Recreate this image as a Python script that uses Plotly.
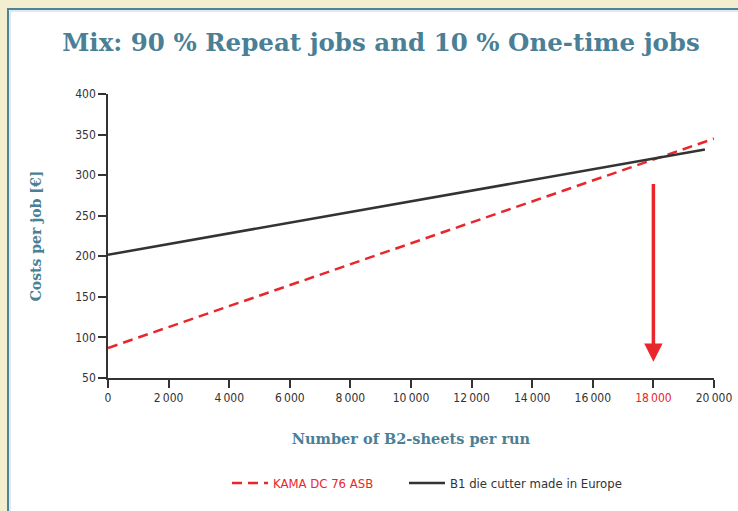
import plotly.graph_objects as go

# Data
kama_x = [0, 20000]
kama_y = [87, 345]
b1_x = [0, 19700]
b1_y = [202, 331.5]
x_ticks = [0, 2000, 4000, 6000, 8000, 10000, 12000, 14000, 16000, 18000, 20000]
x_tick_labels = ["0", "2\u2009000", "4\u2009000", "6\u2009000", "8\u2009000", "10\u2009000",
                 "12\u2009000", "14\u2009000", "16\u2009000",
                 "<span style='color:#e8262b'>18\u2009000</span>", "20\u2009000"]
y_ticks = [50, 100, 150, 200, 250, 300, 350, 400]
breakeven_x = 18000
arrow_top = 291
arrow_tip = 70

RED = "#e8262b"
DARK = "#333333"
TEAL = "#4a7f96"
COND = "DejaVu Sans Condensed, Liberation Sans Narrow, Liberation Sans, sans-serif"
SERIF = "DejaVu Serif, serif"

# plot-area geometry in pixels (for the decorative panel)
L, R, T, B = 108, 24, 94, 133
PW = 738 - L - R
PH = 511 - T - B

fig = go.Figure()
fig.add_trace(go.Scatter(x=kama_x, y=kama_y, mode="lines",
                         name="<span style='color:#e8262b'>KAMA DC 76 ASB</span>",
                         line=dict(color=RED, width=2.5, dash="10px,6px"),
                         legend="legend"))
fig.add_trace(go.Scatter(x=b1_x, y=b1_y, mode="lines",
                         name="B1 die cutter made in Europe",
                         line=dict(color=DARK, width=2.5),
                         legend="legend2"))

fig.add_annotation(x=breakeven_x, y=arrow_tip, ax=breakeven_x, ay=arrow_top,
                   xref="x", yref="y", axref="x", ayref="y",
                   text="", showarrow=True, arrowhead=2, arrowsize=1.05,
                   arrowwidth=3.5, arrowcolor=RED)

# white panel with teal border
fig.add_shape(type="rect", xref="paper", yref="paper",
              x0=(8 - L) / PW, x1=(760 - L) / PW,
              y0=(T + PH - 530) / PH, y1=(T + PH - 9) / PH,
              line=dict(width=2, color="#4d8298"), fillcolor="white", layer="below")
fig.add_shape(type="rect", xref="paper", yref="paper",
              x0=(10 - L) / PW, x1=(762 - L) / PW,
              y0=(T + PH - 530) / PH, y1=(T + PH - 11) / PH,
              line=dict(width=1, color="#bcd6e0"), fillcolor="rgba(0,0,0,0)", layer="below")

legend_common = dict(orientation="h", xanchor="left", xref="container",
                     y=1-483/511, yanchor="middle", yref="container",
                     font=dict(family=COND, size=13, color=DARK),
                     bgcolor="rgba(0,0,0,0)", itemwidth=36, borderwidth=0)

fig.update_layout(
    width=738, height=511,
    margin=dict(l=L, r=R, t=T, b=B, autoexpand=False),
    paper_bgcolor="#f3eecf",
    plot_bgcolor="white",
    showlegend=True,
    title=dict(text="<b>Mix: 90 % Repeat jobs and 10 % One-time jobs</b>",
               x=381/738, xanchor="center", y=1-42/511, yanchor="middle",
               font=dict(family=SERIF, size=24.5, color=TEAL)),
    legend=dict(x=227/738, **legend_common),
    legend2=dict(x=404/738, **legend_common),
    xaxis=dict(range=[0, 20000], tickvals=x_ticks, ticktext=x_tick_labels,
               showgrid=False, zeroline=False, showline=True, linecolor=DARK,
               linewidth=1.5, ticks="outside", ticklen=8, tickwidth=1.5, tickcolor=DARK,
               tickfont=dict(family=COND, size=12, color=DARK),
               title=dict(text="<b>Number of B2-sheets per run</b>", standoff=30,
                          font=dict(family=SERIF, size=14.5, color=TEAL))),
    yaxis=dict(range=[50, 400], tickvals=y_ticks,
               showgrid=False, zeroline=False, showline=True, linecolor=DARK,
               linewidth=1.5, ticks="outside", ticklen=8, tickwidth=1.5, tickcolor=DARK,
               tickfont=dict(family=COND, size=12, color=DARK),
               title=dict(text="<b>Costs per job [€]</b>", standoff=30,
                          font=dict(family=SERIF, size=14, color=TEAL))),
)

fig.write_html("out.html")
